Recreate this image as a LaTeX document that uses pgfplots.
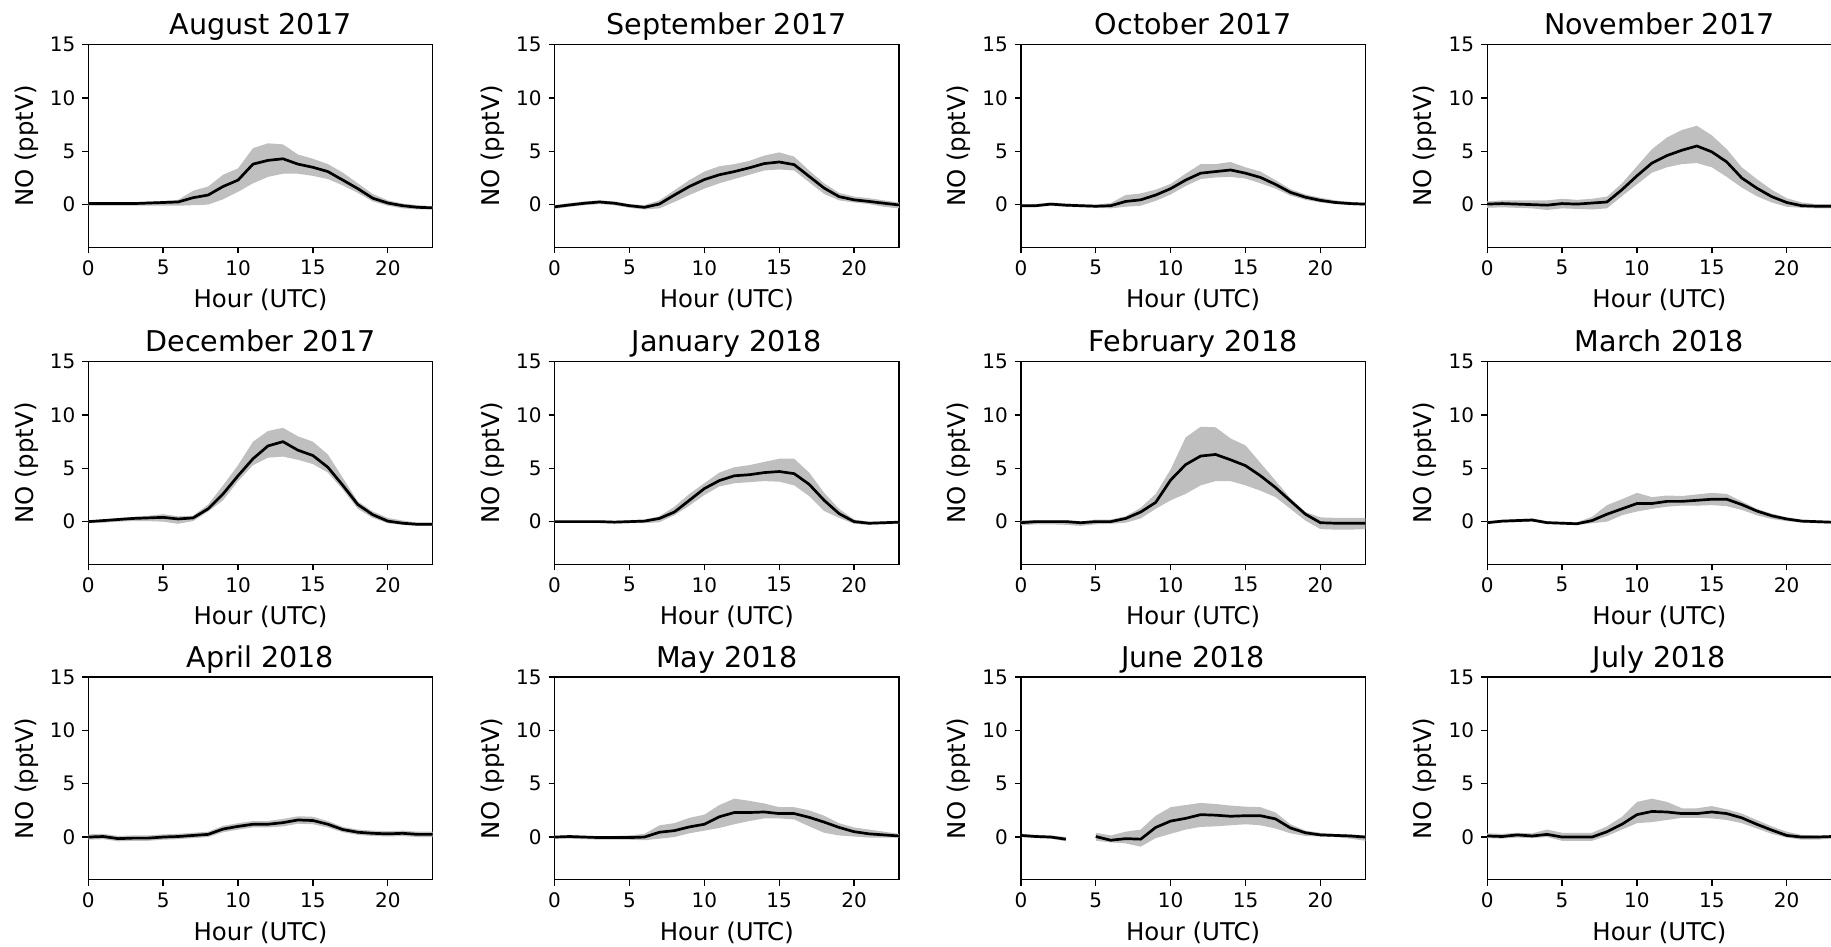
\documentclass[border=0pt]{standalone}
\usepackage{fontspec}
\setmainfont{DejaVu Sans}
\usepackage{pgfplots}
\pgfplotsset{compat=1.18}
\usepackage{pgfplotstable}
\usepgfplotslibrary{fillbetween}

% Monthly mean diurnal NO cycle: hour, mean, lower and upper bound of the band
\pgfplotstableread{
h m lo hi
0 0.10 -0.10 0.20
1 0.10 -0.10 0.20
2 0.10 -0.10 0.20
3 0.10 -0.10 0.20
4 0.15 -0.10 0.30
5 0.20 -0.10 0.35
6 0.25 -0.10 0.45
7 0.65 -0.05 1.30
8 0.90 0.00 1.70
9 1.70 0.50 2.80
10 2.30 1.20 3.40
11 3.80 2.00 5.30
12 4.15 2.60 5.75
13 4.30 2.90 5.65
14 3.80 2.90 4.70
15 3.50 2.70 4.30
16 3.10 2.40 3.80
17 2.30 1.80 3.00
18 1.50 1.10 2.00
19 0.60 0.30 1.00
20 0.15 -0.10 0.40
21 -0.10 -0.35 0.10
22 -0.25 -0.45 -0.05
23 -0.30 -0.45 -0.15
}\tabAug
\pgfplotstableread{
h m lo hi
0 -0.20 -0.40 -0.05
1 -0.03 -0.20 0.15
2 0.13 -0.05 0.30
3 0.25 0.05 0.40
4 0.13 -0.05 0.30
5 -0.10 -0.30 0.05
6 -0.25 -0.45 -0.05
7 0.06 -0.35 0.40
8 0.90 0.25 1.35
9 1.70 0.90 2.30
10 2.35 1.50 3.10
11 2.80 2.00 3.60
12 3.10 2.40 3.80
13 3.45 2.80 4.10
14 3.85 3.20 4.60
15 4.00 3.30 4.90
16 3.75 3.20 4.50
17 2.65 2.10 3.20
18 1.55 1.00 2.00
19 0.75 0.40 1.10
20 0.45 0.20 0.75
21 0.30 0.05 0.60
22 0.13 -0.20 0.40
23 -0.03 -0.35 0.20
}\tabSep
\pgfplotstableread{
h m lo hi
0 -0.10 -0.20 0.00
1 -0.10 -0.20 0.05
2 0.05 -0.10 0.20
3 -0.05 -0.20 0.10
4 -0.10 -0.25 0.05
5 -0.15 -0.30 0.00
6 -0.10 -0.35 0.15
7 0.30 -0.20 0.90
8 0.45 -0.10 1.05
9 0.90 0.35 1.40
10 1.50 0.95 1.95
11 2.30 1.75 2.90
12 2.95 2.40 3.80
13 3.10 2.55 3.80
14 3.25 2.60 4.00
15 2.95 2.45 3.50
16 2.55 2.00 3.10
17 1.90 1.50 2.30
18 1.15 0.85 1.45
19 0.70 0.45 0.95
20 0.40 0.20 0.65
21 0.20 0.05 0.40
22 0.10 -0.05 0.25
23 0.05 -0.10 0.15
}\tabOct
\pgfplotstableread{
h m lo hi
0 0.05 -0.30 0.30
1 0.10 -0.25 0.40
2 0.05 -0.30 0.40
3 0.00 -0.35 0.40
4 -0.05 -0.50 0.40
5 0.10 -0.35 0.55
6 0.05 -0.40 0.45
7 0.15 -0.45 0.55
8 0.25 -0.35 0.75
9 1.40 0.80 2.00
10 2.70 1.90 3.60
11 3.90 3.00 5.20
12 4.60 3.50 6.30
13 5.10 3.80 7.00
14 5.50 3.90 7.40
15 4.95 3.50 6.50
16 4.00 2.60 5.20
17 2.50 1.60 3.50
18 1.55 0.80 2.40
19 0.75 0.20 1.40
20 0.20 -0.20 0.60
21 -0.10 -0.30 0.20
22 -0.15 -0.35 0.05
23 -0.15 -0.35 0.05
}\tabNov
\pgfplotstableread{
h m lo hi
0 0.00 -0.15 0.10
1 0.10 -0.10 0.20
2 0.20 0.00 0.35
3 0.30 0.05 0.45
4 0.35 0.05 0.55
5 0.40 0.00 0.70
6 0.25 -0.20 0.50
7 0.35 0.05 0.55
8 1.20 0.95 1.60
9 2.60 2.00 3.40
10 4.30 3.80 5.30
11 5.90 5.30 7.50
12 7.10 6.00 8.50
13 7.50 6.10 8.80
14 6.70 5.80 8.00
15 6.20 5.40 7.50
16 5.10 4.60 6.30
17 3.40 3.00 4.10
18 1.60 1.20 1.90
19 0.65 0.35 0.95
20 0.05 -0.15 0.35
21 -0.15 -0.30 0.10
22 -0.25 -0.40 -0.10
23 -0.25 -0.40 -0.10
}\tabDec
\pgfplotstableread{
h m lo hi
0 0.00 -0.10 0.10
1 0.00 -0.10 0.10
2 0.00 -0.10 0.10
3 0.00 -0.10 0.10
4 -0.05 -0.15 0.10
5 0.00 -0.15 0.15
6 0.05 -0.15 0.20
7 0.30 -0.05 0.50
8 0.90 0.60 1.40
9 2.00 1.50 2.60
10 3.10 2.50 3.60
11 3.85 3.30 4.60
12 4.30 3.60 5.10
13 4.40 3.70 5.30
14 4.60 3.80 5.60
15 4.70 3.75 5.90
16 4.50 3.40 5.90
17 3.50 2.40 4.60
18 2.00 1.00 2.70
19 0.75 0.35 1.20
20 0.00 -0.20 0.20
21 -0.15 -0.30 0.00
22 -0.10 -0.25 0.00
23 -0.05 -0.20 0.05
}\tabJan
\pgfplotstableread{
h m lo hi
0 -0.10 -0.35 0.10
1 0.00 -0.25 0.15
2 0.00 -0.25 0.15
3 0.00 -0.30 0.15
4 -0.10 -0.40 0.00
5 0.00 -0.25 0.20
6 0.00 -0.20 0.20
7 0.30 -0.10 0.50
8 0.90 0.30 1.30
9 1.80 1.20 2.60
10 3.90 2.00 4.90
11 5.35 2.60 7.90
12 6.15 3.40 8.90
13 6.30 3.80 8.85
14 5.80 3.80 7.80
15 5.25 3.40 7.15
16 4.30 2.90 5.50
17 3.20 2.30 3.85
18 1.95 1.20 2.20
19 0.70 0.10 0.90
20 -0.10 -0.70 0.40
21 -0.15 -0.75 0.35
22 -0.15 -0.75 0.35
23 -0.15 -0.70 0.35
}\tabFeb
\pgfplotstableread{
h m lo hi
0 -0.10 -0.20 0.05
1 0.05 -0.10 0.15
2 0.10 -0.05 0.25
3 0.15 0.00 0.30
4 -0.10 -0.20 0.05
5 -0.15 -0.25 0.00
6 -0.20 -0.30 -0.05
7 0.10 -0.15 0.45
8 0.70 0.00 1.55
9 1.20 0.60 2.10
10 1.70 0.95 2.70
11 1.70 1.20 2.30
12 1.90 1.40 2.45
13 1.90 1.50 2.40
14 2.00 1.50 2.55
15 2.10 1.55 2.70
16 2.10 1.45 2.60
17 1.60 1.10 1.90
18 1.00 0.60 1.20
19 0.55 0.25 0.75
20 0.25 0.05 0.40
21 0.05 -0.10 0.20
22 0.00 -0.15 0.10
23 -0.05 -0.20 0.05
}\tabMar
\pgfplotstableread{
h m lo hi
0 0.00 -0.25 0.25
1 0.05 -0.20 0.30
2 -0.15 -0.40 0.10
3 -0.10 -0.35 0.15
4 -0.10 -0.35 0.15
5 0.00 -0.25 0.25
6 0.05 -0.20 0.30
7 0.15 -0.10 0.40
8 0.25 0.00 0.50
9 0.75 0.45 1.05
10 1.00 0.70 1.30
11 1.20 0.90 1.50
12 1.20 0.90 1.50
13 1.35 1.00 1.70
14 1.60 1.25 1.95
15 1.55 1.20 1.90
16 1.20 0.90 1.50
17 0.70 0.45 0.95
18 0.45 0.20 0.70
19 0.35 0.10 0.60
20 0.30 0.05 0.55
21 0.35 0.10 0.60
22 0.25 0.00 0.50
23 0.25 0.00 0.50
}\tabApr
\pgfplotstableread{
h m lo hi
0 0.00 -0.15 0.10
1 0.05 -0.15 0.15
2 0.00 -0.20 0.10
3 -0.05 -0.25 0.05
4 -0.05 -0.25 0.10
5 -0.05 -0.25 0.15
6 0.00 -0.30 0.30
7 0.45 -0.15 1.10
8 0.60 0.00 1.30
9 0.95 0.35 1.80
10 1.20 0.60 2.10
11 1.90 0.85 3.00
12 2.30 1.20 3.60
13 2.30 1.50 3.40
14 2.35 1.75 3.15
15 2.20 1.75 2.80
16 2.20 1.65 2.80
17 1.85 1.00 2.50
18 1.40 0.40 2.00
19 0.90 0.15 1.30
20 0.50 0.05 0.90
21 0.30 -0.05 0.70
22 0.20 -0.05 0.50
23 0.10 -0.05 0.30
}\tabMay
\pgfplotstableread{
h m lo hi
0 0.15 0.00 0.30
1 0.05 -0.10 0.20
2 0.00 -0.15 0.15
3 -0.20 -0.40 0.00
}\tabJunA
\pgfplotstableread{
h m lo hi
5 0.05 -0.35 0.40
6 -0.30 -0.50 0.15
7 -0.15 -0.60 0.50
8 -0.20 -0.90 0.70
9 0.90 -0.10 2.00
10 1.50 0.30 2.80
11 1.75 0.70 3.00
12 2.10 0.95 3.20
13 2.05 1.00 3.10
14 1.95 1.10 2.95
15 2.00 1.20 2.85
16 2.00 1.10 2.80
17 1.70 0.80 2.30
18 0.85 0.35 1.20
19 0.40 0.10 0.60
20 0.20 0.05 0.40
21 0.15 0.00 0.30
22 0.10 -0.15 0.25
23 0.00 -0.35 0.15
}\tabJunB
\pgfplotstableread{
h m lo hi
0 0.10 -0.10 0.35
1 0.05 -0.15 0.30
2 0.20 -0.05 0.40
3 0.10 -0.10 0.35
4 0.25 0.00 0.70
5 0.00 -0.35 0.40
6 0.00 -0.35 0.40
7 0.00 -0.35 0.40
8 0.50 0.10 1.00
9 1.20 0.70 1.90
10 2.10 1.30 3.30
11 2.40 1.40 3.60
12 2.35 1.60 3.30
13 2.20 1.80 2.70
14 2.20 1.80 2.70
15 2.35 1.75 2.90
16 2.20 1.60 2.60
17 1.80 1.30 2.20
18 1.20 0.80 1.60
19 0.65 0.30 1.00
20 0.15 -0.05 0.50
21 0.00 -0.25 0.20
22 0.00 -0.25 0.15
23 0.05 -0.15 0.10
}\tabJul

\pgfplotsset{
  panel/.style={
    scale only axis, width=172.2pt, height=101.3pt, anchor=south west,
    xmin=0, xmax=23, ymin=-4, ymax=15,
    xtick={0,5,10,15,20}, ytick={0,5,10,15},
    xtick pos=bottom, ytick pos=left, tick align=outside,
    major tick length=3pt,
    axis line style={line width=0.7pt},
    tick style={line width=0.7pt, black},
    ticklabel style={font=\fontsize{10}{12}\selectfont},
    /pgf/number format/assume math mode=true,
    xlabel={Hour (UTC)}, ylabel={NO (pptV)},
    label style={font=\fontsize{12.2}{14}\selectfont},
    xlabel style={at={(axis description cs:0.5,0)}, anchor=center, yshift=-26.4pt},
    ylabel style={at={(axis description cs:-0.18,0.5)}, anchor=center},
    every axis title/.style={at={(axis description cs:0.5,1)}, anchor=base,
      yshift=4.9pt, font=\fontsize{14.3}{17}\selectfont},
  },
  band/.style={fill=black!25, draw=none},
  meanline/.style={black, line width=1.35pt, line join=round},
}

\newcommand{\panel}[4]{%
  \begin{axis}[panel, at={(#1,#2)}, title={#3}]
    \addplot[name path=hi, draw=none] table[x=h, y=hi] {#4};
    \addplot[name path=lo, draw=none] table[x=h, y=lo] {#4};
    \addplot[band] fill between[of=hi and lo];
    \addplot[meanline] table[x=h, y=m] {#4};
  \end{axis}}

\begin{document}
\begin{tikzpicture}
% row 1
\panel{44.15pt}{349.85pt}{August 2017}{\tabAug}
\panel{277.3pt}{349.85pt}{September 2017}{\tabSep}
\panel{510.45pt}{349.85pt}{October 2017}{\tabOct}
\panel{743.6pt}{349.85pt}{November 2017}{\tabNov}
% row 2
\panel{44.15pt}{191.35pt}{December 2017}{\tabDec}
\panel{277.3pt}{191.35pt}{January 2018}{\tabJan}
\panel{510.45pt}{191.35pt}{February 2018}{\tabFeb}
\panel{743.6pt}{191.35pt}{March 2018}{\tabMar}
% row 3
\panel{44.15pt}{33.65pt}{April 2018}{\tabApr}
\panel{277.3pt}{33.65pt}{May 2018}{\tabMay}
% June has no data at 04 UTC: two separate segments
\begin{axis}[panel, at={(510.45pt,33.65pt)}, title={June 2018}]
  \addplot[name path=hiA, draw=none] table[x=h, y=hi] {\tabJunA};
  \addplot[name path=loA, draw=none] table[x=h, y=lo] {\tabJunA};
  \addplot[band] fill between[of=hiA and loA];
  \addplot[name path=hiB, draw=none] table[x=h, y=hi] {\tabJunB};
  \addplot[name path=loB, draw=none] table[x=h, y=lo] {\tabJunB};
  \addplot[band] fill between[of=hiB and loB];
  \addplot[meanline] table[x=h, y=m] {\tabJunA};
  \addplot[meanline] table[x=h, y=m] {\tabJunB};
\end{axis}
\panel{743.6pt}{33.65pt}{July 2018}{\tabJul}
% page frame: the right-hand column ends at the edge of the page
\pgfresetboundingbox
\useasboundingbox (0,0) rectangle (915.5pt,473.5pt);
\end{tikzpicture}
\end{document}
